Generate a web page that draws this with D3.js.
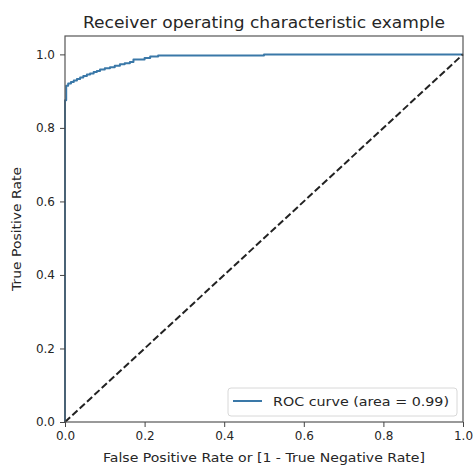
<!DOCTYPE html>
<html>
<head>
<meta charset="utf-8">
<script src="https://cdn.jsdelivr.net/npm/d3@7"></script>
<style>
  html, body { margin: 0; padding: 0; background: #fff; }
  svg text { font-family: "DejaVu Sans", sans-serif; fill: #262626; }
</style>
</head>
<body>
<svg id="chart" width="474" height="466"></svg>
<script>
// ROC curve points (false positive rate, true positive rate)
const fpr = [0, 0, 0.003, 0.003, 0.008, 0.008, 0.015, 0.015, 0.022, 0.022, 0.03, 0.03,
             0.038, 0.038, 0.046, 0.046, 0.055, 0.055, 0.063, 0.063, 0.072, 0.072,
             0.08, 0.08, 0.088, 0.088, 0.1, 0.1, 0.113, 0.113, 0.125, 0.125,
             0.138, 0.138, 0.15, 0.15, 0.163, 0.163, 0.172, 0.172, 0.2, 0.2,
             0.214, 0.214, 0.234, 0.234, 0.5, 0.5, 1.0];
const tpr = [0, 0.875, 0.875, 0.915, 0.915, 0.921, 0.921, 0.925, 0.925, 0.929, 0.929, 0.933,
             0.933, 0.937, 0.937, 0.941, 0.941, 0.945, 0.945, 0.948, 0.948, 0.952,
             0.952, 0.955, 0.955, 0.959, 0.959, 0.962, 0.962, 0.965, 0.965, 0.969,
             0.969, 0.973, 0.973, 0.976, 0.976, 0.979, 0.979, 0.986, 0.986, 0.99,
             0.99, 0.994, 0.994, 0.997, 0.997, 1.0, 1.0];
const chance = [0, 1];
const xTicks = [0, 0.2, 0.4, 0.6, 0.8, 1.0];
const yTicks = [0, 0.2, 0.4, 0.6, 0.8, 1.0];
const rocArea = 0.99;

(function(){
    const svg = d3.select('#chart');
    const left = 65, right = 463, top = 36, bottom = 422;

    const x = d3.scaleLinear().domain([0, 1]).range([left, right]);
    const y = d3.scaleLinear().domain([0, 1.05]).range([bottom, top]);

    const pts = fpr.map((f, i) => [f, tpr[i]]);
    const line = d3.line().x(d => x(d[0])).y(d => y(d[1]));

    svg.append('path').datum(pts)
        .attr('d', line)
        .attr('fill', 'none')
        .attr('stroke', '#3a78a8')
        .attr('stroke-width', 2)
        .attr('stroke-linejoin', 'round');

    svg.append('path').datum(chance.map(v => [v, v]))
        .attr('d', line)
        .attr('fill', 'none')
        .attr('stroke', '#222')
        .attr('stroke-width', 2)
        .attr('stroke-dasharray', '7,3');

    // frame
    svg.append('rect')
        .attr('x', left).attr('y', top)
        .attr('width', right - left).attr('height', bottom - top)
        .attr('fill', 'none').attr('stroke', '#555').attr('stroke-width', 1.2);

    const fmt = d3.format('.1f');
    const gx = svg.append('g').attr('transform', `translate(0,${bottom})`)
        .call(d3.axisBottom(x).tickValues(xTicks).tickFormat(fmt).tickSize(5).tickSizeOuter(0).tickPadding(4));
    const gy = svg.append('g').attr('transform', `translate(${left},0)`)
        .call(d3.axisLeft(y).tickValues(yTicks).tickFormat(fmt).tickSize(5).tickSizeOuter(0).tickPadding(5));
    [gx, gy].forEach(g => {
        g.select('.domain').remove();
        g.selectAll('line').attr('stroke', '#444');
        g.selectAll('text').style('font-size', '12px').attr('fill', '#262626');
    });

    svg.append('text')
        .attr('x', (left + right) / 2).attr('y', 28)
        .attr('text-anchor', 'middle')
        .style('font-size', '15px')
        .attr('textLength', 362).attr('lengthAdjust', 'spacingAndGlyphs')
        .text('Receiver operating characteristic example');

    svg.append('text')
        .attr('x', (left + right) / 2).attr('y', 462)
        .attr('text-anchor', 'middle')
        .style('font-size', '12px')
        .attr('textLength', 322).attr('lengthAdjust', 'spacingAndGlyphs')
        .text('False Positive Rate or [1 - True Negative Rate]');

    svg.append('text')
        .attr('transform', `translate(21,${(top + bottom) / 2}) rotate(-90)`)
        .attr('text-anchor', 'middle')
        .style('font-size', '12px')
        .attr('textLength', 124).attr('lengthAdjust', 'spacingAndGlyphs')
        .text('True Positive Rate');

    // legend
    const lg = svg.append('g');
    lg.append('rect')
        .attr('x', 228).attr('y', 388).attr('width', 229).attr('height', 28)
        .attr('rx', 3).attr('fill', '#fff').attr('fill-opacity', 0.8)
        .attr('stroke', '#d8d8d8');
    lg.append('line')
        .attr('x1', 233).attr('x2', 262).attr('y1', 401).attr('y2', 401)
        .attr('stroke', '#3a78a8').attr('stroke-width', 2);
    lg.append('text')
        .attr('x', 273).attr('y', 405.5)
        .style('font-size', '13px')
        .attr('textLength', 176).attr('lengthAdjust', 'spacingAndGlyphs')
        .text(`ROC curve (area = ${rocArea.toFixed(2)})`);
})();
</script>
</body>
</html>
